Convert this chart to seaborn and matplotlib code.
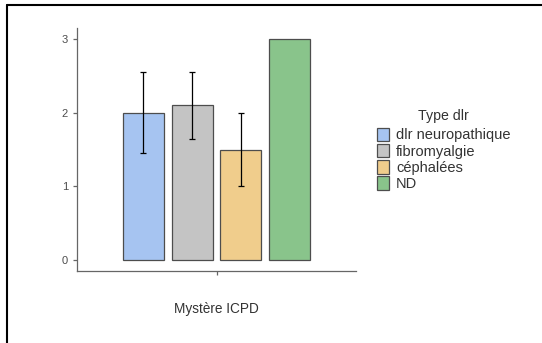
import numpy as np
import pandas as pd
import matplotlib
matplotlib.use('Agg')
import matplotlib.pyplot as plt
import seaborn as sns
from matplotlib.lines import Line2D

# Data
types = ['dlr neuropathique', 'fibromyalgie', 'céphalées', 'ND']
means = [2.0, 2.1, 1.5, 3.0]
errs = [0.55, 0.45, 0.5, np.nan]
group = ['Mystère ICPD'] * 4
colors = ['#a6c4f1', '#c4c4c4', '#f0cd8c', '#89c48b']

df = pd.DataFrame({'groupe': group, 'Type dlr': types, 'moyenne': means, 'err': errs})

sns.set_theme(style='ticks')
plt.rcParams['font.family'] = ['Liberation Sans', 'DejaVu Sans']

fig = plt.figure(figsize=(5.42, 3.43), dpi=100)
ax = fig.add_axes([0.142, 0.210, 0.515, 0.708])

sns.barplot(data=df, x='groupe', y='moyenne', hue='Type dlr', hue_order=types,
            palette=colors, width=0.70, gap=0.16, errorbar=None,
            edgecolor='#4d4d4d', linewidth=0.9, saturation=1, ax=ax)

# Error bars at the bar centres
for bar, m, e in zip(ax.patches[:4], means, errs):
    if np.isnan(e):
        continue
    cx = bar.get_x() + bar.get_width() / 2
    ax.errorbar(cx, m, yerr=e, color='black', lw=0.9, capsize=2.5, capthick=0.9)

ax.set_xlim(-0.5, 0.5)
ax.set_ylim(-0.15, 3.15)
ax.set_yticks([0, 1, 2, 3])
ax.set_xticks([0])
ax.set_xticklabels([''])
ax.set_xlabel('Mystère ICPD', fontsize=9.8, color='#333333', labelpad=16)
ax.set_ylabel('')
sns.despine(ax=ax)
for s in ['left', 'bottom']:
    ax.spines[s].set_color('#666666')
    ax.spines[s].set_linewidth(0.9)
ax.tick_params(axis='both', colors='#666666', labelcolor='#4d4d4d', labelsize=8,
               length=3, width=0.9)

leg = ax.legend(title='Type dlr', loc='upper left', bbox_to_anchor=(0.685, 0.700),
                bbox_transform=fig.transFigure, frameon=False, fontsize=10.5,
                title_fontsize=10.2, handlelength=0.85, handleheight=1.05,
                handletextpad=0.45, labelspacing=0.1, borderaxespad=0)
leg._legend_box.sep = 3.5
for t in leg.get_texts():
    t.set_color('#333333')
leg.get_title().set_color('#333333')

# Frame lines on the left and top of the picture
fig.add_artist(Line2D([7 / 542, 7 / 542], [0, 1 - 5 / 343], transform=fig.transFigure,
                      color='black', lw=1.5))
fig.add_artist(Line2D([7 / 542, 1], [1 - 5 / 343, 1 - 5 / 343], transform=fig.transFigure,
                      color='black', lw=1.5))

fig.savefig('out.png', dpi=100)
